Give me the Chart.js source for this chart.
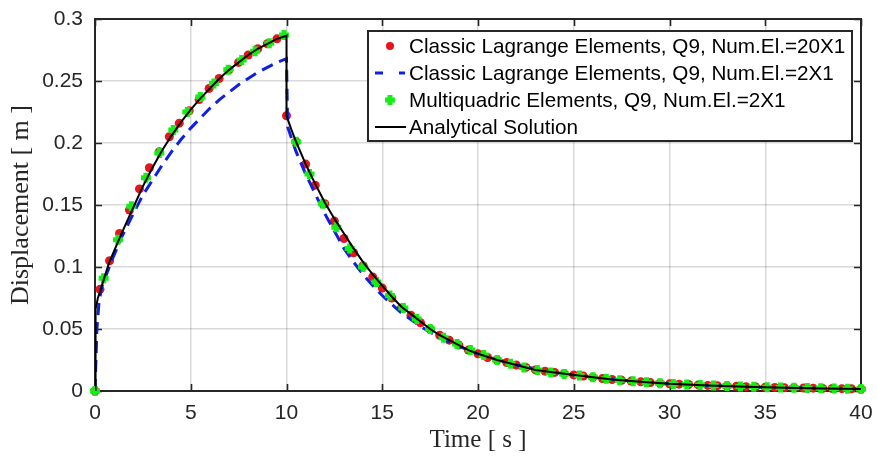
<!DOCTYPE html>
<html>
<head>
<meta charset="utf-8">
<script src="https://cdn.jsdelivr.net/npm/chart.js@4.4.1/dist/chart.umd.min.js"></script>
<style>
  html, body { margin: 0; padding: 0; background: #fff; }
  #wrap { width: 877px; height: 459px; }
</style>
</head>
<body>
<div id="wrap"><canvas id="chart" width="877" height="459"></canvas></div>
<script>
// Displacement vs time: two FE meshes, multiquadric elements and the analytical curve

const seriesNames = [
  'Classic Lagrange Elements, Q9, Num.El.=20X1',
  'Classic Lagrange Elements, Q9, Num.El.=2X1',
  'Multiquadric Elements, Q9, Num.El.=2X1',
  'Analytical Solution'
];

const xTicks = [0, 5, 10, 15, 20, 25, 30, 35, 40];
const yTickLabels = ['0', '0.05', '0.1', '0.15', '0.2', '0.25', '0.3'];

// 20X1 mesh (red dots)
const timeFine = [
  0, 0.26, 0.76, 1.28, 1.8, 2.32, 2.84, 3.36, 3.88, 4.4, 4.92, 5.44, 5.96, 6.48, 7.0, 7.5, 8.0, 8.5, 9.0, 9.5,
  10, 10.5, 11, 11.5, 12, 12.5, 13, 13.5, 14, 14.5, 15, 15.5, 16, 16.5, 17, 17.5, 18, 18.5, 19, 19.5,
  20, 20.5, 21, 21.5, 22, 22.5, 23, 23.5, 24, 24.5, 25, 25.5, 26, 26.5, 27, 27.5, 28, 28.5, 29, 29.5,
  30, 30.5, 31, 31.5, 32, 32.5, 33, 33.5, 34, 34.5, 35, 35.5, 36, 36.5, 37, 37.5, 38, 38.5, 39, 39.5, 40
];
const dispFine = [
  0, 0.082, 0.105, 0.127, 0.146, 0.163, 0.180, 0.193, 0.205, 0.216, 0.226, 0.235, 0.244, 0.252, 0.259, 0.265, 0.271, 0.276, 0.280, 0.284,
  0.222, 0.201, 0.183, 0.166, 0.151, 0.137, 0.123, 0.1115, 0.101, 0.092, 0.083, 0.075, 0.067, 0.061, 0.055, 0.050, 0.045, 0.041, 0.037, 0.033,
  0.030, 0.027, 0.025, 0.023, 0.021, 0.019, 0.017, 0.016, 0.015, 0.014, 0.013, 0.012, 0.011, 0.010, 0.0093, 0.0086, 0.0080, 0.0074, 0.0068, 0.0063,
  0.0058, 0.0055, 0.0052, 0.0049, 0.0045, 0.0043, 0.0040, 0.0038, 0.0035, 0.0033, 0.0031, 0.0029, 0.0027, 0.0026, 0.0024, 0.0023, 0.0021, 0.0020, 0.0019, 0.0018, 0.0016
];

// 2X1 mesh, classic elements (blue dashed)
const timeCoarse = [
  0, 0.04, 0.1, 0.2, 0.35, 0.87, 1.42, 2.0, 2.5, 3.0, 3.5, 4.0, 4.5, 5.0, 5.5, 6.0, 6.5, 7.0, 7.5, 8.0, 8.5, 9.0, 9.5, 10.0,
  10.06, 10.5, 11.0, 11.5, 12.0, 12.5, 13.0, 13.5, 14.0, 14.5, 15.0, 15.5, 16.0, 17.0, 18.0, 19.0, 20.0,
  22.0, 24.0, 26.0, 28.0, 30.0, 32.0, 34.0, 36.0, 38.0, 40.0
];
const dispCoarse = [
  0, 0.02, 0.05, 0.07, 0.084, 0.105, 0.125, 0.143, 0.158, 0.170, 0.182, 0.193, 0.203, 0.212, 0.220, 0.228, 0.235, 0.241, 0.247, 0.252, 0.257, 0.261, 0.265, 0.268,
  0.213, 0.193, 0.175, 0.159, 0.143, 0.129, 0.115, 0.104, 0.094, 0.085, 0.077, 0.070, 0.063, 0.052, 0.043, 0.036, 0.030,
  0.021, 0.015, 0.011, 0.008, 0.0058, 0.0045, 0.0035, 0.0027, 0.0021, 0.0016
];

// 2X1 mesh, multiquadric elements (green plus)
const timeMQ = [
  0, 0.45, 1.2, 1.9, 2.66, 3.36, 4.09, 4.82, 5.5, 6.21, 6.96, 7.66, 8.36, 9.1, 9.87,
  10.5, 11.2, 11.9, 12.6, 13.3, 14.0, 14.7, 15.4, 16.1, 16.8, 17.5, 18.2, 18.9, 19.6, 20.3,
  21.0, 21.7, 22.4, 23.1, 23.8, 24.5, 25.3, 26.0, 26.7, 27.4, 28.1, 28.8, 29.5, 30.2, 30.9,
  31.6, 32.3, 33.0, 33.7, 34.4, 35.1, 35.8, 36.5, 37.2, 37.9, 38.6, 39.3, 40.0
];
const dispMQ = [
  0, 0.091, 0.122, 0.149, 0.172, 0.192, 0.2105, 0.225, 0.237, 0.248, 0.259, 0.267, 0.274, 0.2805, 0.287,
  0.201, 0.175, 0.151, 0.132, 0.115, 0.100, 0.088, 0.077, 0.067, 0.058, 0.050, 0.043, 0.038, 0.033, 0.029,
  0.025, 0.022, 0.019, 0.017, 0.015, 0.0138, 0.0125, 0.011, 0.0098, 0.0087, 0.0078, 0.0070, 0.0063, 0.0057, 0.0053,
  0.0048, 0.0044, 0.0040, 0.0037, 0.0034, 0.0031, 0.0028, 0.0026, 0.0024, 0.0022, 0.0020, 0.0018, 0.0016
];

// analytical solution (black line)
const timeExact = [
  0, 0.03, 0.15, 0.3, 0.5, 0.75, 1.0, 1.25, 1.5, 2.0, 2.5, 3.0, 3.5, 4.0, 4.5, 5.0, 5.5, 6.0, 6.5, 7.0, 7.5, 8.0, 8.5, 9.0, 9.5, 10.0,
  10.0, 10.25, 10.5, 10.75, 11.0, 11.5, 12.0, 12.5, 13.0, 13.5, 14.0, 14.5, 15.0, 15.5, 16.0, 16.5, 17.0, 17.5, 18.0, 18.5, 19.0, 19.5, 20.0,
  21, 22, 23, 24, 25, 26, 27, 28, 29, 30, 32, 34, 36, 38, 40
];
const dispExact = [
  0, 0.066, 0.075, 0.082, 0.092, 0.104, 0.113, 0.122, 0.131, 0.148, 0.165, 0.180, 0.194, 0.206, 0.217, 0.227, 0.236, 0.244, 0.252, 0.259, 0.265, 0.271, 0.276, 0.280, 0.284, 0.2865,
  0.222, 0.211, 0.201, 0.192, 0.183, 0.167, 0.152, 0.139, 0.127, 0.115, 0.104, 0.094, 0.085, 0.076, 0.068, 0.062, 0.056, 0.050, 0.045, 0.041, 0.037, 0.033, 0.030,
  0.025, 0.021, 0.017, 0.015, 0.013, 0.011, 0.0093, 0.0080, 0.0068, 0.0058, 0.0045, 0.0035, 0.0027, 0.0021, 0.0016
];

const RED = '#e6141c';
const BLUE = '#1020e0';
const GREEN = '#14ee14';
const AXIS = '#262626';
const SANS = '"Liberation Sans", Arial, sans-serif';
const SERIF = '"Liberation Serif", "Times New Roman", serif';

function toPoints(xs, ys) {
  return xs.map((x, i) => ({ x: x, y: ys[i] }));
}

// white page behind everything
const background = {
  id: 'background',
  beforeDraw(chart) {
    const ctx = chart.ctx;
    ctx.save();
    ctx.fillStyle = '#fff';
    ctx.fillRect(0, 0, chart.width, chart.height);
    ctx.restore();
  }
};

// closed axes box with inward ticks on all four sides
const axesBox = {
  id: 'axesBox',
  beforeDatasetsDraw(chart) {
    const { ctx, chartArea: a, scales } = chart;
    const len = 7;
    ctx.save();
    ctx.strokeStyle = AXIS;
    ctx.lineWidth = 1.6;
    ctx.beginPath();
    xTicks.forEach(v => {
      const px = Math.round(scales.x.getPixelForValue(v)) + 0.5;
      ctx.moveTo(px, a.bottom); ctx.lineTo(px, a.bottom - len);
      ctx.moveTo(px, a.top); ctx.lineTo(px, a.top + len);
    });
    yTickLabels.forEach(s => {
      const py = Math.round(scales.y.getPixelForValue(parseFloat(s))) + 0.5;
      ctx.moveTo(a.left, py); ctx.lineTo(a.left + len, py);
      ctx.moveTo(a.right, py); ctx.lineTo(a.right - len, py);
    });
    ctx.stroke();
    ctx.lineWidth = 2;
    ctx.strokeRect(a.left, a.top, a.right - a.left, a.bottom - a.top);
    ctx.restore();
  }
};

// boxed legend in the upper right corner of the plot
const boxLegend = {
  id: 'boxLegend',
  afterDatasetsDraw(chart) {
    const ctx = chart.ctx;
    const a = chart.chartArea;
    const x0 = 368, y0 = 31, w = a.right - 9 - x0, h = 110;
    const rowH = 27;
    ctx.save();
    ctx.fillStyle = '#fff';
    ctx.fillRect(x0, y0, w, h);
    ctx.strokeStyle = AXIS;
    ctx.lineWidth = 2;
    ctx.strokeRect(x0, y0, w, h);

    ctx.font = '20.7px ' + SANS;
    ctx.textBaseline = 'middle';
    ctx.fillStyle = '#000';
    seriesNames.forEach((name, i) => {
      const cy = y0 + 15 + i * rowH;
      const mx = 390;
      if (i === 0) {
        ctx.fillStyle = RED;
        ctx.beginPath();
        ctx.arc(mx, cy, 4, 0, Math.PI * 2);
        ctx.fill();
      } else if (i === 1) {
        ctx.strokeStyle = BLUE;
        ctx.lineWidth = 3;
        ctx.beginPath();
        ctx.moveTo(375, cy); ctx.lineTo(383, cy);
        ctx.moveTo(399, cy); ctx.lineTo(405, cy);
        ctx.stroke();
      } else if (i === 2) {
        ctx.strokeStyle = GREEN;
        ctx.lineWidth = 5;
        ctx.beginPath();
        ctx.moveTo(mx - 5, cy); ctx.lineTo(mx + 5, cy);
        ctx.moveTo(mx, cy - 5); ctx.lineTo(mx, cy + 5);
        ctx.stroke();
      } else {
        ctx.strokeStyle = '#000';
        ctx.lineWidth = 2;
        ctx.beginPath();
        ctx.moveTo(375, cy); ctx.lineTo(406, cy);
        ctx.stroke();
      }
      ctx.fillStyle = '#000';
      ctx.fillText(name, 409, cy + 1);
    });
    ctx.restore();
  }
};

new Chart(document.getElementById('chart'), {
  type: 'scatter',
  data: {
    datasets: [
      {
        label: seriesNames[3],
        data: toPoints(timeExact, dispExact),
        showLine: true,
        borderColor: '#000',
        borderWidth: 2,
        pointRadius: 0,
        tension: 0,
        order: 0
      },
      {
        label: seriesNames[2],
        data: toPoints(timeMQ, dispMQ),
        pointStyle: 'cross',
        pointRadius: 5,
        borderColor: GREEN,
        backgroundColor: GREEN,
        pointBorderWidth: 5,
        clip: false,
        order: 1
      },
      {
        label: seriesNames[1],
        data: toPoints(timeCoarse, dispCoarse),
        showLine: true,
        borderColor: BLUE,
        borderWidth: 3,
        borderDash: [12, 7],
        pointRadius: 0,
        tension: 0,
        order: 2
      },
      {
        label: seriesNames[0],
        data: toPoints(timeFine, dispFine),
        pointStyle: 'circle',
        pointRadius: 4.5,
        borderWidth: 0,
        backgroundColor: RED,
        borderColor: RED,
        clip: false,
        order: 3
      }
    ]
  },
  options: {
    responsive: false,
    devicePixelRatio: 1,
    animation: false,
    layout: { padding: { top: 19, right: 16, left: 0, bottom: 0 } },
    plugins: {
      legend: { display: false },
      tooltip: { enabled: false }
    },
    scales: {
      x: {
        type: 'linear',
        min: 0,
        max: 40,
        afterBuildTicks(scale) {
          scale.ticks = xTicks.map(v => ({ value: v }));
        },
        afterFit(scale) {
          scale.height = 68;
          scale.paddingLeft = 0;
          scale.paddingRight = 0;
        },
        grid: { color: 'rgba(0,0,0,0.15)', lineWidth: 1.5, drawTicks: false },
        border: { display: false },
        ticks: {
          padding: 10,
          color: AXIS,
          font: { family: SANS, size: 21 },
          maxRotation: 0
        },
        title: {
          display: true,
          text: 'Time [ s ]',
          color: AXIS,
          font: { family: SERIF, size: 25 },
          padding: { top: 0, bottom: 4 }
        }
      },
      y: {
        type: 'linear',
        min: 0,
        max: 0.3,
        afterBuildTicks(scale) {
          scale.ticks = yTickLabels.map(s => ({ value: parseFloat(s) }));
        },
        afterFit(scale) {
          scale.width = 95;
          scale.paddingTop = 0;
          scale.paddingBottom = 0;
        },
        grid: { color: 'rgba(0,0,0,0.15)', lineWidth: 1.5, drawTicks: false },
        border: { display: false },
        ticks: {
          padding: 12,
          color: AXIS,
          font: { family: SANS, size: 21 },
          callback: (value, index) => yTickLabels[index]
        },
        title: {
          display: true,
          text: 'Displacement [ m ]',
          color: AXIS,
          font: { family: SERIF, size: 26 },
          padding: { top: 6, bottom: 0 }
        }
      }
    }
  },
  plugins: [background, axesBox, boxLegend]
});
</script>
</body>
</html>
